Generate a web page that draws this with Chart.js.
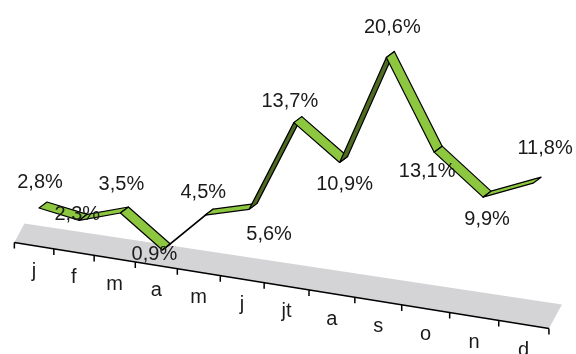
<!DOCTYPE html>
<html>
<head>
<meta charset="utf-8">
<script src="https://cdn.jsdelivr.net/npm/chart.js@4/dist/chart.umd.min.js"></script>
<style>
  html, body { margin: 0; padding: 0; background: #fff; }
</style>
</head>
<body>
<canvas id="rateChart" width="576" height="354"></canvas>
<script>
// months on the x axis
const monthLabels = ['j', 'f', 'm', 'a', 'm', 'j', 'jt', 'a', 's', 'o', 'n', 'd'];
// monthly share (%)
const rateValues = [2.8, 2.3, 3.5, 0.9, 4.5, 5.6, 13.7, 10.9, 20.6, 13.1, 9.9, 11.8];
// where each value label sits, relative to its point (px)
const labelOffsets = [[1, -27], [-2, -7], [1, -30], [-8, 3], [-2, -24], [20, 24],
                      [-4, -23], [5, 21], [6, -31], [-7, 18], [4, 21], [12, -36]];

// fake 3D view
const slant = 0.161;      // floor goes down to the right
const persp = 0.000256;   // spacing grows to the right
const depth = [8, -6];    // ribbon depth
const topGreen = '#8dc63f';
const underGreen = '#4f6b22';
const floorGrey = '#d4d4d6';
const textColor = '#1a1a1a';
const font = '20px "Liberation Sans", Arial, sans-serif';

function fmt(v) {
    return v.toFixed(1).replace('.', ',') + '%';
}

const ribbonPlugin = {
    id: 'ribbon3d',
    afterDraw(chart) {
        const ctx = chart.ctx;
        const xs = chart.scales.x, ys = chart.scales.y;
        const x0 = chart.chartArea.left;
        const warpX = u => x0 + (u - x0) / (1 - persp * (u - x0));
        const zeroY = X => ys.getPixelForValue(0) + slant * (X - x0);
        const axisY = X => zeroY(X) + 6;
        const frontX = f => warpX(xs.getPixelForValue(f)) - (5 + 0.4 * f);

        ctx.save();

        //floor
        const tl = frontX(-0.5), tr = frontX(monthLabels.length - 0.5);
        ctx.fillStyle = floorGrey;
        ctx.beginPath();
        ctx.moveTo(tl, axisY(tl));
        ctx.lineTo(tr, axisY(tr));
        ctx.lineTo(tr + 13, axisY(tr) - 24);
        ctx.lineTo(tl + 10, axisY(tl) - 19);
        ctx.closePath();
        ctx.fill();

        //axis + ticks
        ctx.strokeStyle = '#000';
        ctx.lineWidth = 1.5;
        ctx.beginPath();
        ctx.moveTo(tl, axisY(tl));
        ctx.lineTo(tr, axisY(tr));
        for (let t = 0; t <= monthLabels.length; t++) {
            const X = frontX(t - 0.5);
            ctx.moveTo(X, axisY(X));
            ctx.lineTo(X, axisY(X) + 6);
        }
        ctx.stroke();

        //month labels
        ctx.font = font;
        ctx.fillStyle = textColor;
        ctx.textAlign = 'center';
        ctx.textBaseline = 'alphabetic';
        monthLabels.forEach((m, i) => {
            const X = frontX(i);
            ctx.fillText(m, X, axisY(X) + 31);
        });

        //ribbon
        const meta = chart.getDatasetMeta(0);
        const pts = meta.data.map(p => {
            const X = warpX(p.x);
            return [X, p.y + slant * (X - x0)];
        });
        ctx.lineWidth = 1.2;
        ctx.lineJoin = 'round';
        for (let i = 0; i < pts.length - 1; i++) {
            const a = pts[i], b = pts[i + 1];
            const cross = (b[0] - a[0]) * depth[1] - (b[1] - a[1]) * depth[0];
            ctx.fillStyle = cross < 0 ? topGreen : underGreen;
            ctx.beginPath();
            ctx.moveTo(a[0], a[1]);
            ctx.lineTo(b[0], b[1]);
            ctx.lineTo(b[0] + depth[0], b[1] + depth[1]);
            ctx.lineTo(a[0] + depth[0], a[1] + depth[1]);
            ctx.closePath();
            ctx.fill();
            ctx.stroke();
        }

        //value labels
        ctx.fillStyle = textColor;
        rateValues.forEach((v, i) => {
            const off = labelOffsets[i];
            ctx.fillText(fmt(v), pts[i][0] + off[0], pts[i][1] + off[1] + 7);
        });

        ctx.restore();
    }
};

const rateData = {
    labels: monthLabels,
    datasets: [{
        label: 'share',
        data: rateValues,
        showLine: false,
        pointRadius: 0,
        borderWidth: 0
    }]
};

const rateConfig = {
    type: 'line',
    data: rateData,
    options: {
        responsive: false,
        animation: false,
        layout: {
            padding: { left: 39, right: 98.4, top: 8.5, bottom: 113.5 }
        },
        scales: {
            x: { type: 'category', display: false, offset: false },
            y: { display: false, min: 0, max: 20 }
        },
        plugins: {
            legend: { display: false },
            tooltip: { enabled: false }
        }
    },
    plugins: [ribbonPlugin]
};

var rateChart = new Chart(document.getElementById('rateChart'), rateConfig);
</script>
</body>
</html>
